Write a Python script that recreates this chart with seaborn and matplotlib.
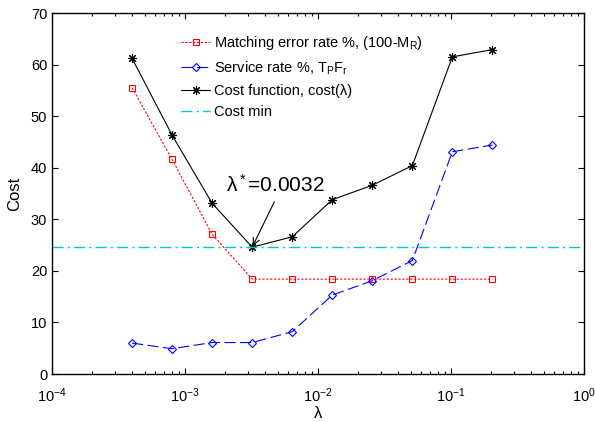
import numpy as np
import pandas as pd
import matplotlib
matplotlib.use("Agg")
import matplotlib.pyplot as plt
import seaborn as sns
from matplotlib.ticker import LogLocator, NullFormatter

# ---- data ----
lam = [0.0004, 0.0008, 0.0016, 0.0032, 0.0064, 0.0128, 0.0256, 0.0512, 0.1024, 0.2048]
matching_err = [55.5, 41.6, 27.1, 18.4, 18.4, 18.4, 18.4, 18.4, 18.4, 18.4]
service_rate = [6.0, 4.9, 6.1, 6.1, 8.2, 15.3, 18.1, 22.0, 43.1, 44.4]
cost_fn = [61.2, 46.3, 33.1, 24.6, 26.6, 33.8, 36.6, 40.4, 61.5, 62.9]
cost_min = 24.6
lam_star = 0.0032
y_ticks = [0, 10, 20, 30, 40, 50, 60, 70]
labels = ["Matching error rate %, (100-M$_R$)",
          "Service rate %, T$_P$F$_r$",
          "Cost function, cost(λ)",
          "Cost min"]

sns.set_style("ticks")
plt.rcParams['font.family'] = ['Liberation Sans', 'DejaVu Sans']
plt.rcParams['mathtext.fontset'] = 'custom'
plt.rcParams['mathtext.rm'] = 'Liberation Sans'
plt.rcParams['mathtext.it'] = 'Liberation Sans'
plt.rcParams['mathtext.bf'] = 'Liberation Sans:bold'
for k in ['text.color', 'axes.labelcolor', 'xtick.color', 'ytick.color', 'axes.edgecolor']:
    plt.rcParams[k] = 'black'

df = pd.DataFrame({"lam": lam, "err": matching_err, "svc": service_rate, "cost": cost_fn})

fig = plt.figure(figsize=(5.95, 4.22), dpi=100)
ax = fig.add_axes([52/595, 48/422, 532/595, 361/422])

sns.lineplot(data=df, x="lam", y="err", ax=ax, color="#ff0000", linestyle=(0, (2, 1.5)),
             linewidth=0.8, marker="s", markersize=4.5, markerfacecolor="none",
             markeredgecolor="#ff0000", markeredgewidth=0.8, label=labels[0])
sns.lineplot(data=df, x="lam", y="svc", ax=ax, color="#0000ff", linestyle=(0, (10, 4)),
             linewidth=0.8, marker="D", markersize=4.5, markerfacecolor="none",
             markeredgecolor="#0000ff", markeredgewidth=0.8, label=labels[1])
sns.lineplot(data=df, x="lam", y="cost", ax=ax, color="black", linestyle="-",
             linewidth=0.8, marker=(8, 2, 0), markersize=6.5,
             markeredgecolor="black", markeredgewidth=0.8, label=labels[2])
ax.axhline(cost_min, color="#00c8c8", linestyle=(0, (8, 3, 1.5, 3)), linewidth=1.0, label=labels[3])

ax.set_xscale("log")
ax.set_xlim(1e-4, 1)
ax.set_ylim(0, 70)
ax.set_yticks(y_ticks)
ax.xaxis.set_major_locator(LogLocator(base=10, numticks=10))
ax.xaxis.set_minor_locator(LogLocator(base=10, subs=np.arange(2, 10), numticks=20))
ax.xaxis.set_minor_formatter(NullFormatter())

ax.tick_params(axis="both", which="both", direction="in", top=True, right=True,
               labelsize=10.5, colors="black", width=0.8)
ax.tick_params(axis="both", which="major", length=4)
ax.tick_params(axis="x", which="minor", length=2.5)
ax.tick_params(axis="x", which="major", pad=9)
for s in ax.spines.values():
    s.set_linewidth(1.0)
    s.set_color("black")

ax.set_xlabel("λ", fontsize=12, labelpad=1)
ax.set_ylabel("Cost", fontsize=12, labelpad=6)

ax.annotate("λ$^*$=0.0032", xy=(lam_star, cost_fn[3]), xytext=(0.00203, 35.3),
            textcoords="data", ha="left", va="baseline", fontsize=15,
            arrowprops=dict(arrowstyle="->", color="black", lw=0.8,
                            relpos=(0.52, 0.0), shrinkA=2, shrinkB=1, mutation_scale=12))

ax.legend(loc="upper left", bbox_to_anchor=(0.232, 0.958), frameon=False,
          fontsize=10.5, handlelength=2.0, handletextpad=0.25, labelspacing=0.5,
          borderaxespad=0)

fig.savefig("out.png", dpi=100)
